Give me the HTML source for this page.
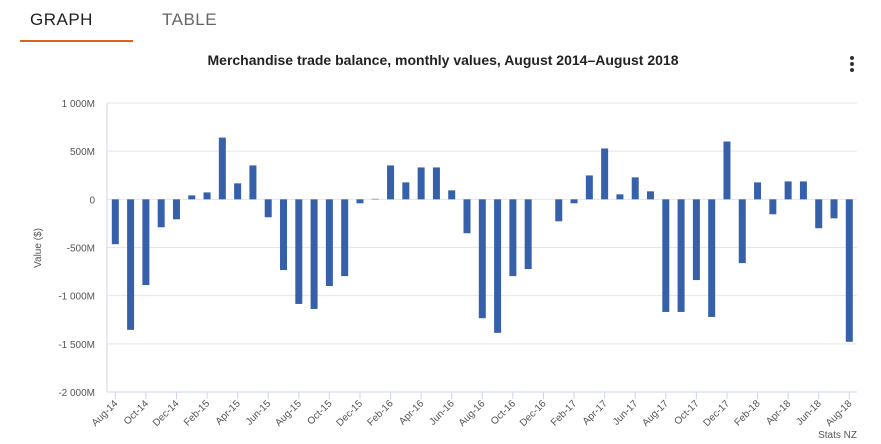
<!DOCTYPE html>
<html><head><meta charset="utf-8"><style>
body{margin:0;background:#fff;font-family:"Liberation Sans",sans-serif;}
#wrap{position:relative;width:881px;height:444px;overflow:hidden;background:#fff;}
.tab{position:absolute;top:10px;font-size:17px;letter-spacing:0.5px;}
</style></head><body>
<div id="wrap">
<div class="tab" style="left:30px;color:#222;">GRAPH</div>
<div class="tab" style="left:162px;color:#666;">TABLE</div>
<div style="position:absolute;left:20px;top:40px;width:113px;height:2px;background:#d9661b;"></div>
<div style="position:absolute;left:850px;top:56px;width:6px;font-size:0;">
<div style="width:4px;height:4px;border-radius:2px;background:#333;margin-bottom:2px"></div><div style="width:4px;height:4px;border-radius:2px;background:#333;margin-bottom:2px"></div><div style="width:4px;height:4px;border-radius:2px;background:#333"></div></div>
<svg id="chart" width="881" height="444" style="position:absolute;left:0;top:0">
<text x="443" y="65" text-anchor="middle" font-size="14" font-weight="bold" fill="#222">Merchandise trade balance, monthly values, August 2014–August 2018</text>
<text transform="translate(41,248) rotate(-90)" text-anchor="middle" font-size="10" fill="#555">Value ($)</text>
<text x="857" y="438" text-anchor="end" font-size="10" fill="#555">Stats NZ</text>
<g id="grid"></g><g id="bars"></g><g id="xaxis"></g>
</svg>
</div>
<script>
const months=["Aug-14","Sep-14","Oct-14","Nov-14","Dec-14","Jan-15","Feb-15","Mar-15","Apr-15","May-15","Jun-15","Jul-15","Aug-15","Sep-15","Oct-15","Nov-15","Dec-15","Jan-16","Feb-16","Mar-16","Apr-16","May-16","Jun-16","Jul-16","Aug-16","Sep-16","Oct-16","Nov-16","Dec-16","Jan-17","Feb-17","Mar-17","Apr-17","May-17","Jun-17","Jul-17","Aug-17","Sep-17","Oct-17","Nov-17","Dec-17","Jan-18","Feb-18","Mar-18","Apr-18","May-18","Jun-18","Jul-18","Aug-18"];
const values=[-466,-1355,-890,-290,-207,41,72,641,166,352,-186,-734,-1086,-1138,-900,-797,-41,5,352,176,331,331,93,-352,-1234,-1386,-797,-724,0,-228,-41,248,528,52,228,83,-1169,-1169,-838,-1221,600,-662,176,-155,186,186,-300,-197,-1479];
const yTicks=[1000,500,0,-500,-1000,-1500,-2000];
const yTickLabels=["1 000M","500M","0","-500M","-1 000M","-1 500M","-2 000M"];
const NS="http://www.w3.org/2000/svg";
const yMin=-2000,yMax=1000,top0=103,bot0=392,left0=107,right0=857;
const y=v=>bot0-(v-yMin)/(yMax-yMin)*(bot0-top0);
const x0=115.3,step=(849.3-115.3)/48;
const x=i=>x0+i*step;
function mk(tag,attrs,parent){const e=document.createElementNS(NS,tag);for(const k in attrs)e.setAttribute(k,attrs[k]);parent.appendChild(e);return e;}
const grid=document.getElementById('grid'),bars=document.getElementById('bars'),xa=document.getElementById('xaxis');
yTicks.forEach((t,i)=>{
  if(t!==yMin){const l=mk('line',{x1:left0,x2:right0,y1:y(t),y2:y(t),stroke:'#e6e6e6','stroke-width':1},grid);
  
  }
  const tx=mk('text',{x:95,y:y(t)+4,'text-anchor':'end','font-size':10,fill:'#555'},grid);
  tx.textContent=yTickLabels[i];
  
  
});
const ya=mk('line',{x1:left0,x2:left0,y1:top0,y2:bot0,stroke:'#ccd6eb'},xa);


const xl=mk('line',{x1:left0,x2:right0,y1:bot0,y2:bot0,stroke:'#ccd6eb'},xa);


values.forEach((v,i)=>{
  const yt=Math.min(y(v),y(0)),h=Math.abs(y(v)-y(0));
  const r=mk('rect',{x:x(i)-3.5,y:yt,width:7,height:Math.max(h,0),fill:'#3760ab'},bars);
  
  
});
months.forEach((m,i)=>{
  if(i%2)return;
  const tk=mk('line',{x1:x(i),x2:x(i),y1:bot0,y2:bot0+7,stroke:'#ccd6eb'},xa);
  
  
  const t=mk('text',{x:x(i)+3,y:bot0+12,'text-anchor':'end','font-size':10,fill:'#555',transform:`rotate(-45 ${x(i)+3} ${bot0+12})`},xa);
  t.textContent=m;
  
  
});
</script>
</body></html>
